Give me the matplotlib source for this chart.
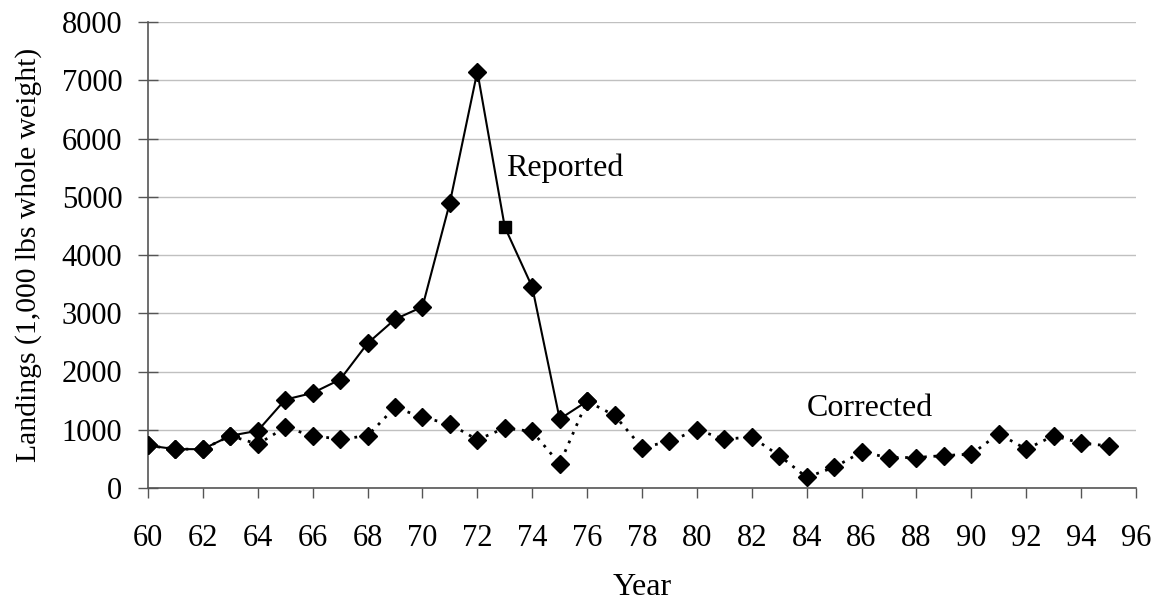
import matplotlib
matplotlib.use("Agg")
import matplotlib.pyplot as plt

plt.rcParams['font.family'] = ['Liberation Serif', 'DejaVu Serif']

# landings, 1,000 lbs whole weight
reported_years = list(range(60, 77))
reported = [730, 667, 667, 897, 983, 1517, 1632, 1862, 2483, 2897, 3110,
            4900, 7150, 4480, 3450, 1184, 1489]

corrected_years = list(range(60, 96))
corrected = [730, 667, 667, 897, 753, 1040, 897, 839, 897, 1385, 1213,
             1098, 828, 1029, 971, 414, 1489, 1247, 695, 799, 1000, 839,
             874, 557, 184, 356, 615, 523, 523, 557, 580, 931, 667, 897,
             770, 724]

xticks = list(range(60, 97, 2))
yticks = list(range(0, 8001, 1000))

fig = plt.figure(figsize=(11.61, 6.03), dpi=100)
ax = fig.add_axes([148 / 1161, 1 - 488 / 603, (1136 - 148) / 1161, (488 - 22) / 603])

ax.plot(corrected_years, corrected, color='black', lw=2,
        linestyle=(0, (1, 2.4)), marker='D', ms=9.5, zorder=3)

# 1973 reported point gets a square instead of a diamond
i73 = reported_years.index(73)
diamonds = [i for i in range(len(reported_years)) if i != i73]
ax.plot(reported_years, reported, color='black', lw=1.5,
        marker='D', ms=9.5, markevery=diamonds, zorder=4)
ax.plot([73], [reported[i73]], 's', color='black', ms=8.5, zorder=5)

ax.text(73.05, 5360, 'Reported', fontsize=23, ha='left', va='baseline')
ax.text(84.0, 1240, 'Corrected', fontsize=23, ha='left', va='baseline')

ax.set_xlim(60, 96)
ax.set_ylim(0, 8000)
ax.set_xticks(xticks)
ax.set_yticks(yticks)
ax.tick_params(axis='x', direction='out', length=7, width=1, color='#555555',
               labelsize=22, pad=19)
ax.tick_params(axis='y', direction='inout', length=14, width=1, color='#555555',
               labelsize=22, pad=11.5)
ax.yaxis.grid(True, color='#c0c0c0', lw=1)
ax.set_axisbelow(True)
for s in ['top', 'right']:
    ax.spines[s].set_visible(False)
for s in ['left', 'bottom']:
    ax.spines[s].set_color('#555555')
    ax.spines[s].set_linewidth(1.2)

ax.set_xlabel('Year', fontsize=23, labelpad=14)
ax.set_ylabel('Landings (1,000 lbs whole weight)', fontsize=21.3, labelpad=14)

fig.savefig('out.png', dpi=100)
